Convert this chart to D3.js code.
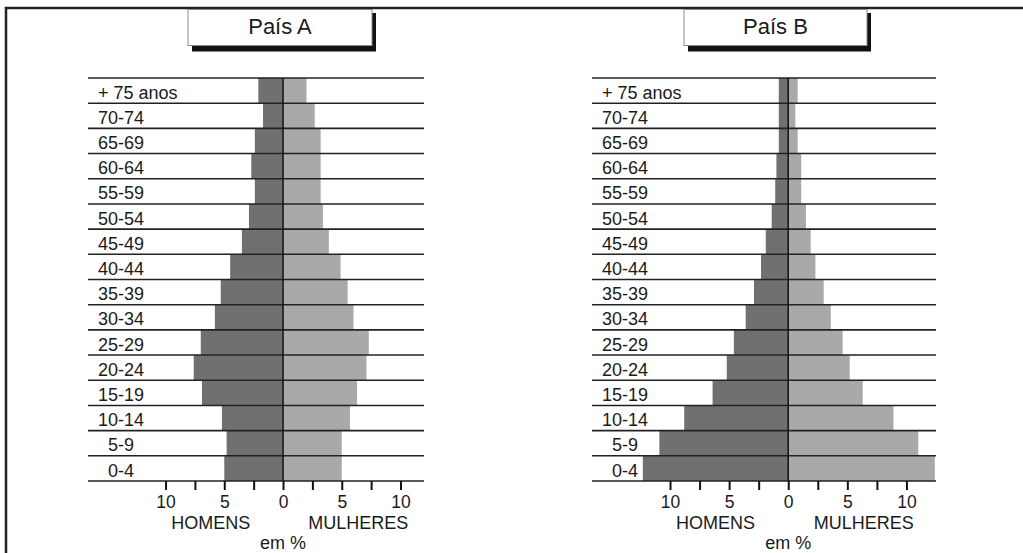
<!DOCTYPE html>
<html lang="pt">
<head>
    <meta charset="UTF-8">
    <title>Pirâmides etárias - País A e País B</title>
    <script src="https://cdnjs.cloudflare.com/ajax/libs/d3/7.8.5/d3.min.js"></script>
    <style>
        body { margin: 0; background: #fff; }
        svg { display: block; font-family: "Liberation Sans", Arial, sans-serif; }
    </style>
</head>
<body>
    <svg id="chart" width="1023" height="553"></svg>

    <script>
        // faixas etárias, de cima para baixo
        const ageGroups = ['+ 75 anos', '70-74', '65-69', '60-64', '55-59', '50-54', '45-49', '40-44',
                           '35-39', '30-34', '25-29', '20-24', '15-19', '10-14', '5-9', '0-4'];

        // valores em %
        const paisAHomens   = [2.1, 1.7, 2.4, 2.7, 2.4, 2.9, 3.5, 4.5, 5.3, 5.8, 7.0, 7.6, 6.9, 5.2, 4.8, 5.0];
        const paisAMulheres = [2.0, 2.7, 3.2, 3.2, 3.2, 3.4, 3.9, 4.9, 5.5, 6.0, 7.3, 7.1, 6.3, 5.7, 5.0, 5.0];
        const paisBHomens   = [0.8, 0.8, 0.8, 1.0, 1.1, 1.4, 1.9, 2.3, 2.9, 3.6, 4.6, 5.2, 6.4, 8.8, 10.9, 12.3];
        const paisBMulheres = [0.8, 0.6, 0.8, 1.1, 1.1, 1.5, 1.9, 2.3, 3.0, 3.6, 4.6, 5.2, 6.3, 8.9, 11.0, 12.4];

        const tickValues = [-10, -7.5, -5, -2.5, 0, 2.5, 5, 7.5, 10];
        const labeledTicks = [-10, -5, 0, 5, 10];

        const svg = d3.select('#chart');

        // moldura (só topo e esquerda aparecem)
        svg.append('line')
            .attr('x1', 5).attr('x2', 1023).attr('y1', 8).attr('y2', 8)
            .attr('stroke', '#222').attr('stroke-width', 2.5);
        svg.append('line')
            .attr('x1', 6).attr('x2', 6).attr('y1', 7).attr('y2', 553)
            .attr('stroke', '#222').attr('stroke-width', 2.5);

        function drawPyramid(cfg) {
            const g = svg.append('g');

            const x = d3.scaleLinear().domain(cfg.domain).range([cfg.left, cfg.right]);
            const y = d3.scaleBand().domain(ageGroups).range([78, 481]).padding(0);
            const x0 = x(0);

            // caixa do título com sombra
            g.append('rect')
                .attr('x', cfg.boxX + 4).attr('y', 13)
                .attr('width', cfg.boxW).attr('height', 38.5)
                .attr('fill', '#111');
            g.append('rect')
                .attr('x', cfg.boxX).attr('y', 9.5)
                .attr('width', cfg.boxW).attr('height', 36)
                .attr('fill', '#fff').attr('stroke', '#8a8a8a').attr('stroke-width', 1);
            g.append('text')
                .attr('x', cfg.boxX + cfg.boxW / 2).attr('y', 33.5)
                .attr('text-anchor', 'middle')
                .style('font-size', '22px').attr('fill', '#1a1a1a')
                .text(cfg.title);

            // barras
            g.selectAll('rect.homens')
                .data(cfg.homens)
                .enter().append('rect')
                .attr('class', 'homens')
                .attr('x', d => x(-d))
                .attr('y', (d, i) => y(ageGroups[i]))
                .attr('width', d => x0 - x(-d))
                .attr('height', y.bandwidth())
                .attr('fill', '#707070');

            g.selectAll('rect.mulheres')
                .data(cfg.mulheres)
                .enter().append('rect')
                .attr('class', 'mulheres')
                .attr('x', x0)
                .attr('y', (d, i) => y(ageGroups[i]))
                .attr('width', d => x(d) - x0)
                .attr('height', y.bandwidth())
                .attr('fill', '#a9a9a9');

            // linhas horizontais das faixas
            const edges = ageGroups.map(a => y(a)).concat([y.range()[1]]);
            g.selectAll('line.row')
                .data(edges)
                .enter().append('line')
                .attr('class', 'row')
                .attr('x1', cfg.left).attr('x2', cfg.right)
                .attr('y1', d => d).attr('y2', d => d)
                .attr('stroke', '#222').attr('stroke-width', 1.6);

            // eixo central
            g.append('line')
                .attr('x1', x0).attr('x2', x0)
                .attr('y1', y.range()[0]).attr('y2', y.range()[1])
                .attr('stroke', '#111').attr('stroke-width', 1.5);

            // rótulos das faixas
            g.selectAll('text.age')
                .data(ageGroups)
                .enter().append('text')
                .attr('class', 'age')
                .attr('x', cfg.left + 10)
                .attr('dx', d => d.length < 5 ? 10 : 0)
                .attr('y', d => y(d) + y.bandwidth() - 4.5)
                .style('font-size', '18px').attr('fill', '#1a1a1a')
                .text(d => d);

            // eixo inferior
            const axis = d3.axisBottom(x)
                .tickValues(tickValues)
                .tickSize(9)
                .tickSizeOuter(0)
                .tickPadding(6)
                .tickFormat(d => labeledTicks.includes(d) ? Math.abs(d) : '');

            const ax = g.append('g')
                .attr('transform', 'translate(0,481)')
                .call(axis);
            ax.select('.domain').remove();
            ax.selectAll('.tick line').attr('stroke', '#111').attr('stroke-width', 2);
            ax.selectAll('.tick text')
                .style('font-size', '17.5px')
                .style('font-family', '"Liberation Sans", Arial, sans-serif')
                .attr('fill', '#1a1a1a');

            g.append('text')
                .attr('x', x(-6.15)).attr('y', 529)
                .attr('text-anchor', 'middle')
                .style('font-size', '18px').attr('fill', '#1a1a1a')
                .text('HOMENS');
            g.append('text')
                .attr('x', x(6.4)).attr('y', 529)
                .attr('text-anchor', 'middle')
                .style('font-size', '18px').attr('fill', '#1a1a1a')
                .text('MULHERES');
            g.append('text')
                .attr('x', x0).attr('y', 549)
                .attr('text-anchor', 'middle')
                .style('font-size', '18px').attr('fill', '#1a1a1a')
                .text('em %');
        }

        drawPyramid({
            title: 'País A',
            homens: paisAHomens,
            mulheres: paisAMulheres,
            domain: [-16.6, 12],
            left: 88, right: 424,
            boxX: 188, boxW: 184
        });

        drawPyramid({
            title: 'País B',
            homens: paisBHomens,
            mulheres: paisBMulheres,
            domain: [-16.6, 12.5],
            left: 592, right: 936,
            boxX: 684, boxW: 183
        });
    </script>
</body>
</html>
